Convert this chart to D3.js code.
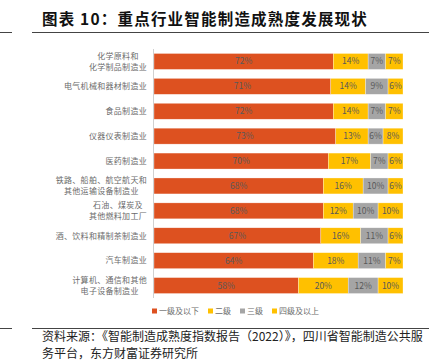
<!DOCTYPE html>
<html>
<head>
<meta charset="utf-8">
<script src="https://cdn.jsdelivr.net/npm/d3@7"></script>
<style>
  body { margin: 0; background: #fff; }
  svg text { font-family: "Noto Sans CJK SC", "Noto Sans", sans-serif; }
</style>
</head>
<body>
<div id="chart"></div>
<script>
// Data
const categories = [
  "化学原料和\n化学制品制造业",
  "电气机械和器材制造业",
  "食品制造业",
  "仪器仪表制造业",
  "医药制造业",
  "铁路、船舶、航空航天和\n其他运输设备制造业",
  "石油、煤炭及\n其他燃料加工厂",
  "酒、饮料和精制茶制造业",
  "汽车制造业",
  "计算机、通信和其他\n电子设备制造业"
];
const seriesNames = ["一级及以下", "二级", "三级", "四级及以上"];
const level1 = [72, 71, 72, 73, 70, 68, 68, 67, 64, 58];
const level2 = [14, 14, 14, 13, 17, 16, 12, 16, 18, 20];
const level3 = [7, 9, 7, 6, 7, 10, 10, 11, 11, 12];
const level4 = [7, 6, 7, 8, 6, 6, 10, 6, 7, 10];
const colors = ["#DD5120", "#FFC000", "#A5A5A5", "#FFC000"];

const WIDTH = 436;
const HEIGHT = 362;

const svg = d3.select("#chart")
  .append("svg")
  .attr("width", WIDTH)
  .attr("height", HEIGHT);

// Title and rules
svg.append("text")
  .attr("x", 42)
  .attr("y", 25)
  .attr("font-size", 15.5)
  .attr("font-weight", "bold")
  .attr("letter-spacing", 1.2)
  .attr("fill", "#111")
  .text("图表 10：重点行业智能制造成熟度发展现状");

[32.5, 328.5].forEach(y => {
  svg.append("line").attr("x1", 0).attr("x2", 12).attr("y1", y).attr("y2", y)
    .attr("stroke", "#444").attr("stroke-width", 1);
  svg.append("line").attr("x1", 32).attr("x2", 429).attr("y1", y).attr("y2", y)
    .attr("stroke", "#444").attr("stroke-width", 1);
});

// Scales
const x = d3.scaleLinear().domain([0, 100]).range([154, 403]);
const y = d3.scaleBand().domain(d3.range(categories.length)).range([49, 298]).paddingInner(0.36).paddingOuter(0.18);

const rows = categories.map((c, i) => [level1[i], level2[i], level3[i], level4[i]]);

const g = svg.append("g");
rows.forEach((vals, i) => {
  let acc = 0;
  vals.forEach((v, k) => {
    const x0 = x(acc), x1 = x(acc + v);
    g.append("rect")
      .attr("x", x0)
      .attr("y", y(i))
      .attr("width", x1 - x0)
      .attr("height", y.bandwidth())
      .attr("fill", colors[k])
      .attr("stroke", "#fff")
      .attr("stroke-opacity", 0.6)
      .attr("stroke-width", 0.5);
    g.append("text")
      .attr("x", (x0 + x1) / 2)
      .attr("y", y(i) + y.bandwidth() / 2)
      .attr("dy", "0.35em")
      .attr("text-anchor", "middle")
      .attr("font-size", 8.5)
      .attr("fill", "#595959")
      .text(v + "%");
    acc += v;
  });
});

// Axis line
svg.append("line")
  .attr("x1", 153.5).attr("x2", 153.5)
  .attr("y1", 49).attr("y2", 298)
  .attr("stroke", "#d0d0d0");

// Category labels (multi-line, centered within block, right aligned)
categories.forEach((c, i) => {
  const lines = c.split("\n");
  const t = svg.append("text")
    .attr("font-size", 8)
    .attr("letter-spacing", 0.3)
    .attr("fill", "#6b6b6b")
    .attr("text-anchor", "middle");
  const cy = y(i) + y.bandwidth() / 2;
  const lh = 11;
  lines.forEach((ln, j) => {
    t.append("tspan")
      .attr("y", cy + (j - (lines.length - 1) / 2) * lh)
      .attr("dy", "0.35em")
      .text(ln);
  });
  let maxW = 0;
  t.selectAll("tspan").each(function () {
    maxW = Math.max(maxW, this.getComputedTextLength());
  });
  t.selectAll("tspan").attr("x", 147 - maxW / 2);
});

// Legend
const legend = svg.append("g").attr("transform", "translate(152, 311)");
let lx = 0;
seriesNames.forEach((name, k) => {
  const item = legend.append("g").attr("transform", `translate(${lx},0)`);
  item.append("rect").attr("x", 0).attr("y", -2.5).attr("width", 5).attr("height", 5).attr("fill", colors[k]);
  const t = item.append("text").attr("x", 7).attr("dy", "0.35em")
    .attr("font-size", 8).attr("fill", "#6b6b6b").text(name);
  lx += 7 + t.node().getComputedTextLength() + 9;
});

// Source note
const src = svg.append("text")
  .attr("font-size", 12)
  .attr("fill", "#222");
src.append("tspan").attr("x", 42).attr("y", 341)
  .text("资料来源：《智能制造成熟度指数报告（2022）》，四川省智能制造公共服");
src.append("tspan").attr("x", 42).attr("y", 358)
  .text("务平台，东方财富证券研究所");
</script>
</body>
</html>
